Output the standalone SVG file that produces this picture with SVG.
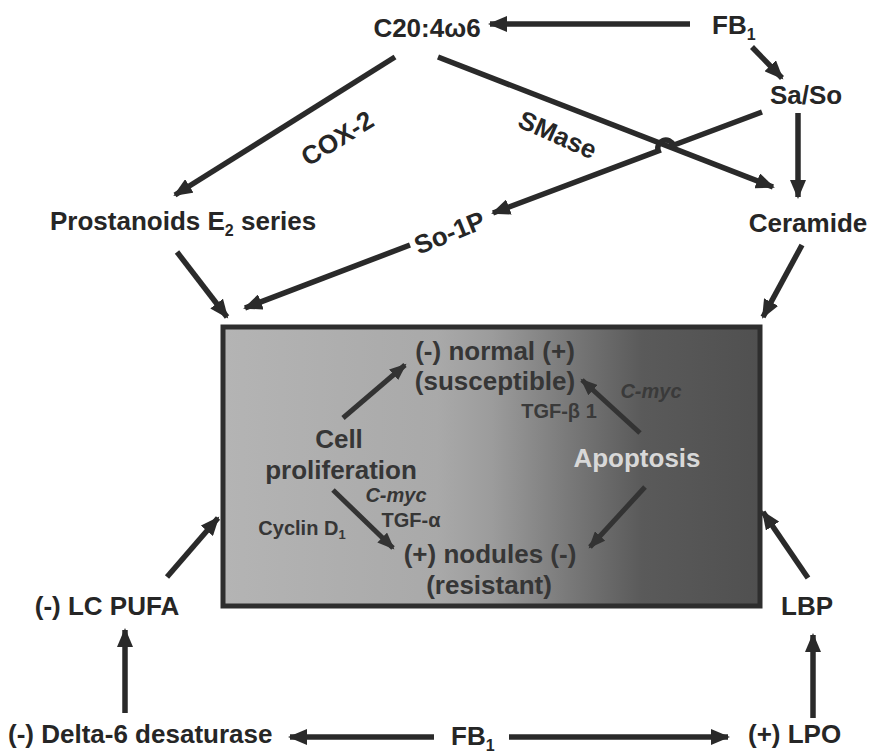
<svg xmlns="http://www.w3.org/2000/svg" width="873" height="753" viewBox="0 0 873 753">
<defs>
<linearGradient id="boxgrad" x1="0" y1="0" x2="1" y2="0">
<stop offset="0" stop-color="#b4b4b4"/>
<stop offset="0.4" stop-color="#a9a9a9"/>
<stop offset="0.5" stop-color="#9c9c9c"/>
<stop offset="0.64" stop-color="#7a7a7a"/>
<stop offset="0.78" stop-color="#5a5a5a"/>
<stop offset="1" stop-color="#505050"/>
</linearGradient>
<marker id="ah" markerUnits="userSpaceOnUse" markerWidth="20" markerHeight="16" refX="17" refY="8" orient="auto">
<path d="M0,0 L19,8 L0,16 z" fill="#2a2a2a"/>
</marker>
<marker id="ahi" markerUnits="userSpaceOnUse" markerWidth="18" markerHeight="14" refX="15" refY="7" orient="auto">
<path d="M0,0 L17,7 L0,14 z" fill="#333"/>
</marker>
</defs>
<style>
text{font-family:"Liberation Sans",Arial,sans-serif;font-weight:bold;fill:#262626}
.big{font-size:26px}
.mid{font-size:20px}
.inner{fill:#363636}
.lbl{font-size:26px}
.con{stroke:#2a2a2a;stroke-width:5.5;fill:none;marker-end:url(#ah)}
.ci{stroke:#333;stroke-width:5;fill:none;marker-end:url(#ahi)}
.sub{font-size:16px}
</style>
<g id="box">
<rect x="223" y="327" width="537" height="279" fill="url(#boxgrad)" stroke="#2e2e2e" stroke-width="5"/>
</g>
<g id="connectors">
<line class="con" x1="690" y1="24" x2="490" y2="24"/>
<line class="con" x1="752" y1="47" x2="782" y2="78"/>
<line class="con" x1="798" y1="113" x2="798" y2="197"/>
<line class="con" x1="395" y1="57" x2="175" y2="195"/>
<line class="con" x1="438" y1="57" x2="773" y2="187"/>
<path class="con" d="M762,112 L673.3,145.3 A8,8 0 0,0 658.3,150.9 L493,213"/>
<line class="con" x1="177" y1="252" x2="227" y2="317"/>
<line class="con" x1="410" y1="245" x2="245" y2="308"/>
<line class="con" x1="802" y1="245" x2="763" y2="317"/>
<line class="con" x1="167" y1="577" x2="218" y2="518"/>
<line class="con" x1="808" y1="578" x2="763" y2="512"/>
<line class="con" x1="125" y1="713" x2="125" y2="630"/>
<line class="con" x1="813" y1="718" x2="813" y2="635"/>
<line class="con" x1="434" y1="737" x2="290" y2="737"/>
<line class="con" x1="509" y1="737" x2="728" y2="737"/>
<line class="ci" x1="343" y1="418" x2="405" y2="365"/>
<line class="ci" x1="333" y1="490" x2="393" y2="548"/>
<line class="ci" x1="640" y1="433" x2="582" y2="380"/>
<line class="ci" x1="645" y1="487" x2="590" y2="547"/>
</g>
<g id="n-c20"><text class="big" x="427" y="37" text-anchor="middle">C20:4ω6</text></g>
<g id="n-fb1-top"><text class="big" x="712" y="34">FB<tspan class="sub" dy="6">1</tspan></text></g>
<g id="n-saso"><text class="big" x="806" y="104" text-anchor="middle">Sa/So</text></g>
<g id="l-cox2"><text class="lbl" transform="translate(342,146) rotate(-32)" text-anchor="middle">COX-2</text></g>
<g id="l-smase"><text class="lbl" transform="translate(554,143) rotate(24)" text-anchor="middle">SMase</text></g>
<g id="n-prostanoids"><text class="big" x="50" y="230">Prostanoids E<tspan class="sub" dy="6">2</tspan><tspan dy="-6"> series</tspan></text></g>
<g id="n-so1p"><text class="lbl" transform="translate(453,241) rotate(-22)" text-anchor="middle">So-1P</text></g>
<g id="n-ceramide"><text class="big" x="808" y="232" text-anchor="middle">Ceramide</text></g>
<g id="n-normal">
<text class="big inner" x="495" y="360" text-anchor="middle">(-) normal (+)</text>
<text class="big inner" x="495" y="390" text-anchor="middle">(susceptible)</text>
</g>
<g id="n-cellprolif">
<text class="big inner" x="339" y="448" text-anchor="middle">Cell</text>
<text class="big inner" x="341" y="479" text-anchor="middle">proliferation</text>
</g>
<g id="l-left-factors">
<text class="mid inner" x="396" y="502" text-anchor="middle" font-style="italic">C-myc</text>
<text class="mid inner" x="411" y="527" text-anchor="middle">TGF-α</text>
<text class="mid inner" x="302" y="535" text-anchor="middle">Cyclin D<tspan font-size="13" dy="4">1</tspan></text>
</g>
<g id="n-nodules">
<text class="big inner" x="490" y="563" text-anchor="middle">(+) nodules (-)</text>
<text class="big inner" x="489" y="594" text-anchor="middle">(resistant)</text>
</g>
<g id="n-apoptosis"><text class="big" x="637" y="467" text-anchor="middle" style="fill:#d8d8d8">Apoptosis</text></g>
<g id="l-right-factors">
<text class="mid" x="651" y="398" text-anchor="middle" font-style="italic" style="fill:#3a3a3a">C-myc</text>
<text class="mid" x="559" y="418" text-anchor="middle" style="fill:#3a3a3a">TGF-β 1</text>
</g>
<g id="n-lcpufa"><text class="big" x="107" y="615" text-anchor="middle">(-) LC PUFA</text></g>
<g id="n-lbp"><text class="big" x="807" y="615" text-anchor="middle">LBP</text></g>
<g id="n-delta6"><text class="big" x="8" y="743">(-) Delta-6 desaturase</text></g>
<g id="n-fb1-bottom"><text class="big" x="451" y="745">FB<tspan class="sub" dy="6">1</tspan></text></g>
<g id="n-lpo"><text class="big" x="748" y="743">(+) LPO</text></g>
</svg>
